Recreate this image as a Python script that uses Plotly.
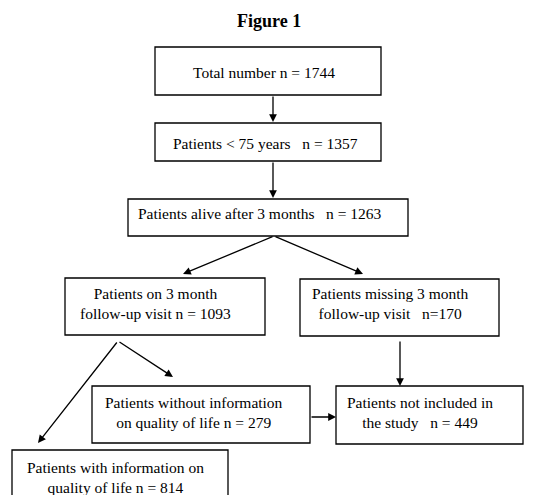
import plotly.graph_objects as go

# flowchart content
node_labels = [
    "Total number",
    "Patients < 75 years",
    "Patients alive after 3 months",
    "Patients on 3 month<br>follow-up visit",
    "Patients missing 3 month<br>follow-up visit",
    "Patients without information<br>on quality of life",
    "Patients not included in<br>the study",
    "Patients with information on<br>quality of life",
]
node_counts = [1744, 1357, 1263, 1093, 170, 279, 449, 814]
count_formats = ["n = {}", "  n = {}", "  n = {}", "n = {}", "  n={}", "n = {}", "  n = {}", "n = {}"]
edges = [(0, 1), (1, 2), (2, 3), (2, 4), (3, 5), (3, 7), (4, 6), (5, 6)]

# layout: boxes (x0, y0, x1, y1) in page pixels, text centre and anchor
boxes = [
    (155, 47, 381, 95),
    (155, 123, 381, 161),
    (128, 199, 408, 236),
    (65, 278, 265, 335),
    (300, 279, 499, 336),
    (92, 386, 310, 443),
    (336, 386, 523, 444),
    (12, 450, 228, 520),
]
text_pos = [
    (264, 72, "center"),
    (265, 143, "center"),
    (136, 213, "left"),
    (155, 303, "center"),
    (390, 303, "center"),
    (194, 412, "center"),
    (420, 412, "center"),
    (115, 477, "center"),
]
# arrow (tail, tip) per edge
arrow_pts = [
    ((273, 95), (273, 122)),
    ((273, 161), (273, 198)),
    ((274, 236), (183, 274)),
    ((274, 236), (363, 274)),
    ((118, 341), (173, 377)),
    ((118, 341), (38, 443)),
    ((400, 340), (400, 386)),
    ((310, 417), (336, 417)),
]

FONT = "Liberation Serif, Times New Roman, serif"
PAGE_OFFSET = 8  # default body margin of the html page

fig = go.Figure()

for (x0, y0, x1, y1) in boxes:
    fig.add_shape(type="rect", xref="x", yref="y", x0=x0, y0=y0, x1=x1, y1=y1,
                  line=dict(color="black", width=1.3), fillcolor="white")

for label, n, fmt, (tx, ty, al) in zip(node_labels, node_counts, count_formats, text_pos):
    txt = label + " " + fmt.format(n)
    fig.add_annotation(x=tx, y=ty, xref="x", yref="y", text=txt.replace("  ", "&nbsp; "),
                       showarrow=False, xanchor=al, yanchor="middle", align="center",
                       font=dict(family=FONT, size=15.5, color="black"))

for (tail, tip) in arrow_pts:
    fig.add_annotation(x=tip[0], y=tip[1], ax=tail[0], ay=tail[1],
                       xref="x", yref="y", axref="x", ayref="y", text="",
                       showarrow=True, arrowhead=2, arrowsize=1.2, arrowwidth=1.3,
                       arrowcolor="black", standoff=0, startstandoff=0)

fig.add_annotation(x=269, y=21, xref="x", yref="y", text="<b>Figure 1</b>",
                   showarrow=False, font=dict(family=FONT, size=18, color="black"))

fig.update_xaxes(range=[PAGE_OFFSET, 533 + PAGE_OFFSET], visible=False, fixedrange=True)
fig.update_yaxes(range=[495 + PAGE_OFFSET, PAGE_OFFSET], visible=False, fixedrange=True)
fig.update_layout(width=533, height=495, margin=dict(l=0, r=0, t=0, b=0),
                  plot_bgcolor="white", paper_bgcolor="white", showlegend=False)

fig.write_html("out.html")
